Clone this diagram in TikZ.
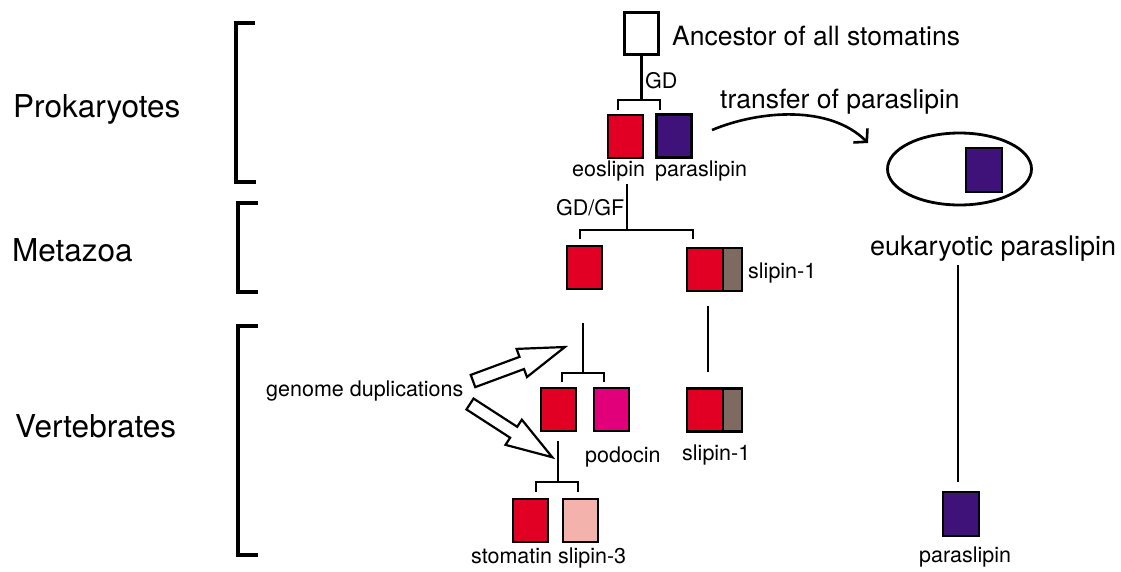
\documentclass[tikz,border=0pt]{standalone}
\usepackage{fontspec}
\setmainfont{TeX Gyre Heros}
\usetikzlibrary{arrows.meta,shapes.geometric}
\definecolor{cred}{RGB}{225,0,35}
\definecolor{cpurple}{RGB}{62,18,120}
\definecolor{cmagenta}{RGB}{226,0,122}
\definecolor{cpink}{RGB}{244,178,172}
\definecolor{cbrown}{RGB}{126,106,96}
\newcommand{\fsmall}{\fontsize{21.5}{24}\selectfont}
\newcommand{\fmid}{\fontsize{26.5}{30}\selectfont}
\newcommand{\fbig}{\fontsize{31.5}{36}\selectfont}
\begin{document}
\begin{tikzpicture}[x=1pt,y=-1pt,
  box/.style={draw=black, line width=2.8, minimum width=35, minimum height=43, inner sep=0},
  halfbox/.style={box, minimum width=19},
  lab/.style={anchor=base west, inner sep=0, text=black},
  tree/.style={line width=2.8, line cap=butt},
  brk/.style={line width=3.2},
  garrow/.style={draw=black, fill=white, line width=2.2, line join=miter}]
\path[use as bounding box] (0,0) rectangle (1121,571);

% brackets and section labels
\draw[brk] (255,23) -- (236,23) -- (236,182) -- (256,182);
\draw[brk] (258,203) -- (238,203) -- (238,292) -- (258,292);
\draw[brk] (258,326) -- (238,326) -- (238,555) -- (258,555);
\node[lab] (prok) at (13,117) {\fbig Prokaryotes};
\node[lab] (meta) at (12,261) {\fbig Metazoa};
\node[lab] (vert) at (15,437) {\fbig Vertebrates};

% ancestor
\node[box, fill=white, minimum width=34, minimum height=42] (anc) at (641.5,33.5) {};
\node[lab] (anclab) at (672,45) {\fmid Ancestor of all stomatins};
\coordinate (j1) at (641.5,100);
\draw[tree] (anc.south) -- (j1);
\draw[tree] (618,110) -- (618,100) -- (660,100) -- (660,110);
\node[lab] (gd) at (645,88) {\fsmall GD};

% prokaryote genes
\node[box, fill=cred] (eos) at (625.5,136.5) {};
\node[box, fill=cpurple] (para) at (674,136) {};
\node[lab] (eoslab) at (572,176) {\fsmall eoslipin};
\node[lab] (paralab) at (655,176) {\fsmall paraslipin};

% transfer
\node[lab] (translab) at (720,108) {\fmid transfer of paraslipin};
\node[draw=black, line width=2.8, ellipse, minimum width=144, minimum height=72, inner sep=0] (ell) at (959.5,169) {};
\node[box, fill=cpurple, minimum width=36, minimum height=44] (epara) at (984,170) {};
\coordinate (tstart) at (712,130);
\coordinate (tend) at (868,143);
\draw[line width=2.6, -{Straight Barb[length=9pt,width=20pt]}] (tstart) .. controls (760,110) and (830,105) .. (tend);
\node[lab] (eukl) at (870,255) {\fontsize{27}{30}\selectfont eukaryotic paraslipin};
\coordinate (e1) at (958,265);
\node[box, fill=cpurple, minimum width=36, minimum height=44] (bpara) at (961,514) {};
\coordinate (e2) at (958,482);
\draw[tree] (e1) -- (e2);
\node[lab] (bparalab) at (919,562) {\fsmall paraslipin};

% metazoa
\coordinate (m0) at (627,184);
\coordinate (mj) at (627,230);
\draw[tree] (m0) -- (mj);
\draw[tree] (580,239) -- (580,230) -- (693,230) -- (693,239);
\node[lab] (gdgf) at (556,215) {\fsmall GD/GF};
\node[box, fill=cred] (m1) at (584.5,267.5) {};
\node[box, fill=cred, minimum width=36] (m2r) at (705,269.5) {};
\node[halfbox, fill=cbrown] (m2b) at (732.5,269.5) {};
\node[lab] (s1a) at (748,278) {\fsmall slipin-1};

% vertebrates
\coordinate (v0) at (583,323);
\coordinate (vj) at (583,373);
\draw[tree] (v0) -- (vj);
\draw[tree] (562,382) -- (562,373) -- (604,373) -- (604,382);
\node[box, fill=cred] (v1) at (558.5,409.5) {};
\node[box, fill=cmagenta] (pod) at (611.5,409.5) {};
\node[lab] (podlab) at (585,462) {\fsmall podocin};

\coordinate (r0) at (708,306);
\coordinate (r1) at (708,372);
\draw[tree] (r0) -- (r1);
\node[box, fill=cred, minimum width=36] (v2r) at (705,410) {};
\node[halfbox, fill=cbrown] (v2b) at (732.5,410) {};
\node[lab] (s1b) at (682,460) {\fsmall slipin-1};

\coordinate (w0) at (558,441);
\coordinate (wj) at (558,482);
\draw[tree] (w0) -- (wj);
\draw[tree] (536,492) -- (536,482) -- (578,482) -- (578,492);
\node[box, fill=cred] (sto) at (530.5,520.5) {};
\node[box, fill=cpink] (sl3) at (580.5,520.5) {};
\node[lab] (stolab) at (471,563) {\fsmall stomatin slipin-3};

% genome duplications
\node[lab] (gdup) at (266,396) {\fsmall genome duplications};
\begin{scope}[shift={(473,381)}, rotate=20.3]
  \draw[garrow] (0,-6.5) -- (52,-6.5) -- (52,-15) -- (98,0) -- (52,15) -- (52,6.5) -- (0,6.5) -- cycle;
\end{scope}
\begin{scope}[shift={(470,404)}, rotate=-32.9]
  \draw[garrow] (0,-6.5) -- (52,-6.5) -- (52,-15) -- (98,0) -- (52,15) -- (52,6.5) -- (0,6.5) -- cycle;
\end{scope}
\end{tikzpicture}
\end{document}
